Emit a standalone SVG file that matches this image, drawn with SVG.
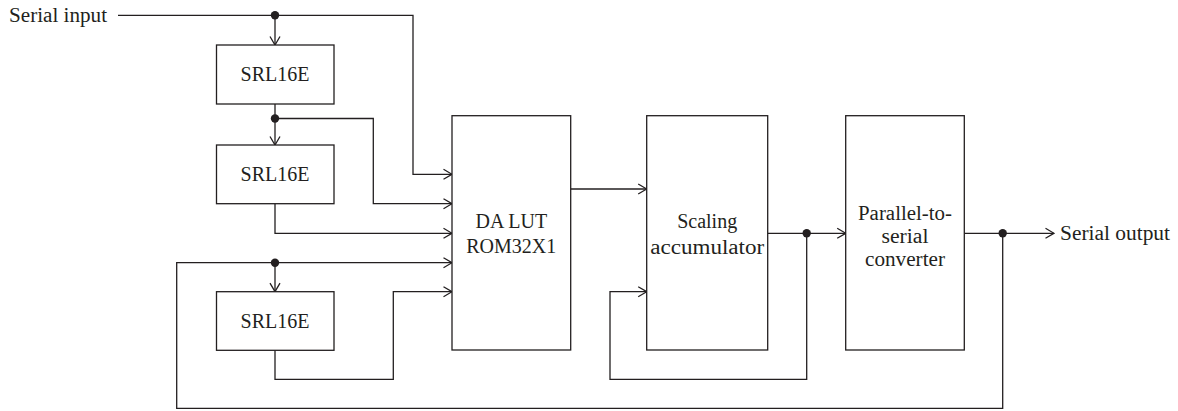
<svg xmlns="http://www.w3.org/2000/svg" width="1178" height="411" viewBox="0 0 1178 411">
<style>
.box{fill:#fff;stroke:#231f20;stroke-width:1.3}
.ln{fill:none;stroke:#231f20;stroke-width:1.3}
.t{font-family:"Liberation Serif",serif;font-size:20px;fill:#231f20}
.c{text-anchor:middle}
.dot{fill:#231f20}
</style>
<defs>
<marker id="arr" viewBox="0 0 10 12" refX="9.5" refY="6" markerWidth="10" markerHeight="12" markerUnits="userSpaceOnUse" orient="auto">
<path d="M1,1 L9.5,6 L1,11" fill="none" stroke="#231f20" stroke-width="1.3"/>
</marker>
</defs>
<g id="connectors">
<path class="ln" d="M118,15.3 H413 V174.3 H452" marker-end="url(#arr)"/>
<path class="ln" d="M275,15.3 V45" marker-end="url(#arr)"/>
<path class="ln" d="M275,104 V145" marker-end="url(#arr)"/>
<path class="ln" d="M275,118.5 H373.3 V203.7 H452" marker-end="url(#arr)"/>
<path class="ln" d="M275,203.7 V233.3 H452" marker-end="url(#arr)"/>
<path class="ln" d="M1002.7,233.3 V408.3 H176.7 V262.7 H452" marker-end="url(#arr)"/>
<path class="ln" d="M275,262.7 V291.7" marker-end="url(#arr)"/>
<path class="ln" d="M275,350.3 V379.3 H393.3 V291.7 H452" marker-end="url(#arr)"/>
<path class="ln" d="M570.7,189 H646.7" marker-end="url(#arr)"/>
<path class="ln" d="M767.7,233.3 H845.7" marker-end="url(#arr)"/>
<path class="ln" d="M806.7,233.3 V379.3 H610 V291.7 H646.7" marker-end="url(#arr)"/>
<path class="ln" d="M964.3,233.3 H1054" marker-end="url(#arr)"/>
<circle class="dot" cx="275" cy="15.3" r="4.2"/>
<circle class="dot" cx="275" cy="118.5" r="4.2"/>
<circle class="dot" cx="275" cy="262.7" r="4.2"/>
<circle class="dot" cx="806.7" cy="233.3" r="4.2"/>
<circle class="dot" cx="1002.7" cy="233.3" r="4.2"/>
</g>
<g id="serial-input"><text class="t" x="9" y="22" textLength="98" lengthAdjust="spacingAndGlyphs">Serial input</text></g>
<g id="serial-output"><text class="t" x="1060" y="240" textLength="110" lengthAdjust="spacingAndGlyphs">Serial output</text></g>
<g id="srl1"><rect class="box" x="216.5" y="45" width="117.5" height="59"/><text class="t c" x="275" y="81">SRL16E</text></g>
<g id="srl2"><rect class="box" x="216.5" y="145" width="117.5" height="58.7"/><text class="t c" x="275" y="181">SRL16E</text></g>
<g id="srl3"><rect class="box" x="216.5" y="291.7" width="117.5" height="58.6"/><text class="t c" x="275" y="327.5">SRL16E</text></g>
<g id="dalut"><rect class="box" x="452" y="115.7" width="118.7" height="234.3"/><text class="t c" x="511.3" y="228">DA LUT</text><text class="t c" x="511.3" y="253">ROM32X1</text></g>
<g id="scaling"><rect class="box" x="646.7" y="115.7" width="121" height="234.3"/><text class="t c" x="707.2" y="228" textLength="60" lengthAdjust="spacingAndGlyphs">Scaling</text><text class="t c" x="707.2" y="254" textLength="114" lengthAdjust="spacingAndGlyphs">accumulator</text></g>
<g id="p2s"><rect class="box" x="845.7" y="115.7" width="118.6" height="234.3"/><text class="t c" x="905" y="220" textLength="94" lengthAdjust="spacingAndGlyphs">Parallel-to-</text><text class="t c" x="905" y="243" textLength="47" lengthAdjust="spacingAndGlyphs">serial</text><text class="t c" x="905" y="266" textLength="80" lengthAdjust="spacingAndGlyphs">converter</text></g>
</svg>
